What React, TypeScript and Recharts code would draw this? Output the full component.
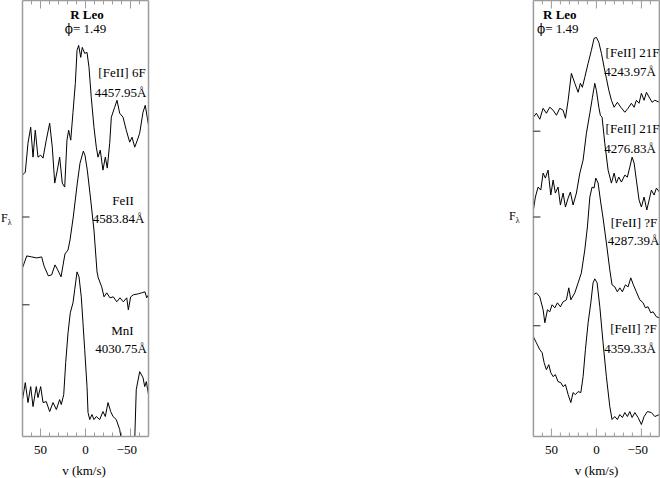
import React from 'react';
import { LineChart, Line, XAxis, YAxis } from 'recharts';

// velocity (km/s), flux (arbitrary units, offset per line)
const feII6F: [number, number][] = [
    [70, 262], [66.9, 265], [63.9, 294], [60.9, 310], [58.3, 280], [55.8, 307], [52.8, 280], [49.8, 282],
    [47.2, 279], [43.6, 297], [39.8, 314], [36.9, 290], [34.2, 254], [31.3, 267], [28.7, 280], [25.8, 254],
    [23.1, 250], [20.6, 297], [18.7, 307], [16.4, 297], [13.9, 325], [11.3, 354], [9.4, 387], [7.6, 392],
    [5.3, 380], [3.6, 390], [0.9, 384], [-1.7, 385], [-3.9, 370], [-6.4, 340], [-9.4, 310], [-12, 290],
    [-13.9, 280], [-16.4, 287], [-19.4, 267], [-22, 280], [-24.2, 269], [-26.9, 294], [-28.7, 320], [-32.4, 330],
    [-35, 337], [-38, 324], [-41.7, 320], [-45.3, 307], [-49.1, 295], [-51.7, 300], [-54.7, 290], [-57.6, 297],
    [-60.2, 304], [-63.9, 325], [-66.4, 332], [-70, 312],
];
const feII4583: [number, number][] = [
    [70, 169], [65.3, 181], [59.8, 180], [54.2, 179], [48.7, 180], [46.1, 171], [41.3, 161], [37.6, 162],
    [33.9, 172], [30.9, 167], [27.2, 160], [22.8, 183], [19.4, 187], [17.2, 197], [13.6, 220], [9.1, 254],
    [6.1, 274], [2.4, 286], [0.6, 282], [-2, 267], [-5.8, 237], [-9.4, 207], [-12.8, 165], [-14.2, 159],
    [-18, 150], [-20.6, 140], [-23.6, 144], [-27.2, 139], [-30.9, 140], [-34.7, 135], [-38.3, 139], [-42, 135],
    [-45.8, 139], [-47.6, 127], [-50.2, 140], [-53.1, 142], [-58.7, 143], [-62.4, 144], [-66.1, 145], [-68, 139],
    [-70, 142],
];
const mnI4030: [number, number][] = [
    [70, 37], [66.9, 54], [63.9, 34], [60.9, 50], [58.3, 30], [54.7, 50], [52.8, 39], [49.8, 50],
    [47.2, 34], [43.6, 35], [39.8, 25], [36.1, 34], [32.4, 27], [28.7, 37], [26.9, 32], [24.2, 42],
    [22, 74], [19.4, 104], [16.9, 124], [13.9, 134], [12, 147], [9.4, 165], [7.2, 160], [4.7, 140],
    [2.8, 114], [0.9, 87], [-1.7, 50], [-2.8, 24], [-4.7, 17], [-7.2, 22], [-9.4, 17], [-12, 20],
    [-15.8, 17], [-19.4, 25], [-22, 20], [-25, 34], [-28, 25], [-30.6, 20], [-34.2, 17], [-38, 7],
    [-39.8, -3], [-43, -33], [-51, -33], [-54.7, -3], [-56.4, 47], [-60.2, 65], [-63.9, 59], [-65.8, 50],
    [-67.6, 55], [-70, 42],
];
const feII4243: [number, number][] = [
    [70, 320], [66.7, 324], [62.9, 318], [59.2, 329], [55.6, 324], [51.8, 330], [48.1, 327], [44.4, 322],
    [40.7, 329], [37, 327], [34.4, 319], [31.4, 337], [27.8, 364], [24, 354], [20.3, 345], [17.8, 354],
    [15.6, 350], [12.9, 360], [9.2, 374], [5.6, 387], [2.6, 399], [0, 400], [-2.7, 395], [-5.6, 384],
    [-8.6, 370], [-11.1, 359], [-13.8, 347], [-16.7, 337], [-19.7, 330], [-23.3, 335], [-27.1, 330], [-31.6, 325],
    [-35.2, 329], [-38.9, 334], [-41.9, 330], [-44.4, 337], [-47.4, 334], [-50, 344], [-53, 337], [-55.6, 345],
    [-59.3, 339], [-61.9, 335], [-64.9, 337], [-70, 335],
];
const feII4276: [number, number][] = [
    [70, 227], [67.8, 240], [64.8, 250], [61.8, 247], [59.2, 264], [56.7, 259], [53.7, 267], [50.7, 242],
    [48.1, 257], [45.6, 244], [42.6, 250], [40, 232], [37, 244], [34.4, 230], [31.4, 239], [28.9, 245],
    [25.9, 232], [22.2, 244], [18.4, 264], [14.8, 277], [11.1, 304], [7.3, 324], [4.4, 340], [1.8, 354],
    [0, 347], [-2.7, 330], [-4.4, 322], [-6.3, 320], [-9.3, 294], [-13, 267], [-16.7, 254], [-19.7, 264],
    [-22.2, 254], [-24.9, 260], [-27.8, 255], [-31.6, 262], [-34.4, 260], [-37.1, 270], [-39.7, 280], [-41.9, 274],
    [-44.4, 257], [-47.4, 237], [-50, 230], [-53, 240], [-56, 227], [-58.6, 237], [-61.1, 247], [-64.1, 242],
    [-66.7, 249], [-70, 245],
];
const feII4287: [number, number][] = [
    [70, 142], [66.7, 144], [62.9, 140], [59.2, 127], [57.3, 114], [54.4, 127], [51.8, 125], [49.2, 132],
    [46.2, 129], [43.3, 134], [40, 130], [37, 135], [33.3, 137], [30.7, 149], [28.4, 137], [24, 144],
    [20.3, 154], [16.7, 164], [12.9, 187], [10, 210], [7.3, 240], [4.8, 250], [2.6, 249], [0.7, 259],
    [-1.9, 254], [-4.9, 234], [-7.4, 219], [-11.1, 194], [-14.9, 167], [-17.4, 152], [-20.4, 150], [-23.3, 145],
    [-26, 149], [-28.9, 145], [-32.2, 152], [-35.2, 150], [-38.2, 159], [-41.1, 152], [-44.4, 145], [-48.2, 137],
    [-51.9, 134], [-54.4, 129], [-57.4, 130], [-60.4, 124], [-63, 125], [-66.7, 120], [-70, 119],
];
const feII4359: [number, number][] = [
    [70, 100], [66.7, 94], [62.9, 87], [60.3, 84], [58.1, 74], [55.6, 67], [52.9, 72], [50.7, 64],
    [48.1, 60], [45.6, 62], [42.6, 55], [39.6, 54], [37, 50], [34.4, 52], [31.4, 42], [28.4, 34],
    [25.9, 44], [23.3, 42], [20.3, 45], [17.3, 44], [14.8, 60], [12.2, 87], [9.2, 114], [6.2, 134],
    [3.7, 154], [1.8, 158], [-0.8, 154], [-3.8, 130], [-7.4, 94], [-11.1, 60], [-14.9, 30], [-17.4, 17],
    [-20.4, 20], [-23.3, 17], [-26, 22], [-28.9, 19], [-31.6, 24], [-34.4, 20], [-37.1, 25], [-39.7, 19],
    [-42.7, 24], [-46.3, 19], [-50, 12], [-53, 20], [-56.7, 25], [-61.1, 24], [-64.9, 20], [-70, 22],
];

const vTicks = [-60, -50, -40, -30, -20, -10, 0, 10, 20, 30, 40, 50, 60];
const leftZeroLevels = [220, 132];
const rightZeroLevels = [306, 220, 111];

const V_DOMAIN: [number, number] = [-70, 70];
const F_DOMAIN: [number, number] = [0, 437];
const FRAME = '#9c9c9c';
const FONT = '"Liberation Serif", "DejaVu Serif", serif';

const toRows = (s: [number, number][]) => s.map(([v, f]) => ({ v, f }));

const fmtV = (v: number) => (v < 0 ? '\u2212' + Math.abs(v) : String(v));

function BottomTick(p: any) {
    const v = p.payload.value;
    const major = v % 50 === 0;
    const digits = String(Math.abs(v)).length;
    return (
        <g>
            <line x1={p.x} x2={p.x} y1={p.y} y2={p.y - (major ? 8 : 4)} stroke={FRAME} strokeWidth={1} />
            {major && (
                <text x={p.x + digits * 3.25} y={p.y + 17.5} textAnchor="end" fontFamily={FONT} fontSize={13} fill="#000">
                    {fmtV(v)}
                </text>
            )}
        </g>
    );
}

function TopTick(p: any) {
    const major = p.payload.value % 50 === 0;
    return <line x1={p.x} x2={p.x} y1={p.y} y2={p.y + (major ? 8 : 4)} stroke={FRAME} strokeWidth={1} />;
}

function LeftTick(p: any) {
    return <line x1={p.x} x2={p.x + 7} y1={p.y} y2={p.y} stroke="#222" strokeWidth={1} />;
}

function Panel({ series, levels, width, margin }: {
    series: [number, number][][];
    levels: number[];
    width: number;
    margin: { top: number; right: number; bottom: number; left: number };
}) {
    return (
        <LineChart width={width} height={478} margin={margin}>
            <XAxis xAxisId="b" dataKey="v" type="number" domain={V_DOMAIN} reversed allowDataOverflow
                ticks={vTicks} interval={0} tick={BottomTick} tickSize={0} tickMargin={0} tickLine={false}
                height={1} axisLine={{ stroke: FRAME, strokeWidth: 1.5 }} />
            <XAxis xAxisId="t" orientation="top" dataKey="v" type="number" domain={V_DOMAIN} reversed allowDataOverflow
                ticks={vTicks} interval={0} tick={TopTick} tickSize={0} tickMargin={0} tickLine={false}
                height={1} axisLine={{ stroke: FRAME, strokeWidth: 1.5 }} />
            <YAxis yAxisId="l" type="number" domain={F_DOMAIN} allowDataOverflow ticks={levels} interval={0}
                tick={LeftTick} tickSize={0} tickMargin={0} tickLine={false} width={1}
                axisLine={{ stroke: FRAME, strokeWidth: 1.5 }} />
            <YAxis yAxisId="r" orientation="right" type="number" domain={F_DOMAIN} allowDataOverflow tick={false}
                tickLine={false} width={1} axisLine={{ stroke: FRAME, strokeWidth: 1.5 }} />
            {series.map((s, i) => (
                <Line key={i} xAxisId="b" yAxisId="l" data={toRows(s)} dataKey="f" type="linear"
                    stroke="#000" strokeWidth={1} dot={false} activeDot={false} isAnimationActive={false} />
            ))}
            <Line xAxisId="t" yAxisId="r" data={toRows(series[0])} dataKey="f" stroke="none" dot={false}
                activeDot={false} isAnimationActive={false} />
        </LineChart>
    );
}

// annotation placement: [text, x, baseline, align, bold]
type Note = [string, number, number, 'left' | 'center', boolean?];
const notes: Note[] = [
    ['R Leo', 87, 18.5, 'center', true],
    ['[FeII] 6F', 122, 77, 'center'],
    ['4457.95\u00c5', 120.5, 97, 'center'],
    ['FeII', 123, 205, 'center'],
    ['4583.84\u00c5', 118.5, 223, 'center'],
    ['MnI', 122.5, 335, 'center'],
    ['4030.75\u00c5', 121, 353, 'center'],
    ['v (km/s)', 84, 475, 'center'],
    ['R Leo', 543, 18.5, 'left', true],
    ['[FeII] 21F', 632.5, 57, 'center'],
    ['4243.97\u00c5', 630, 76, 'center'],
    ['[FeII] 21F', 632.5, 133, 'center'],
    ['4276.83\u00c5', 630, 153, 'center'],
    ['[FeII] ?F', 634, 227, 'center'],
    ['4287.39\u00c5', 633.5, 245, 'center'],
    ['[FeII] ?F', 633.5, 333, 'center'],
    ['4359.33\u00c5', 630, 353, 'center'],
    ['v (km/s)', 596.5, 475, 'center'],
];
// phase captions: [x, baseline, align]
const phaseNotes: [number, number, 'left' | 'center'][] = [
    [85.5, 33, 'center'],
    [537, 33, 'left'],
];

function Phase({ x, baseline, align }: { x: number; baseline: number; align: 'left' | 'center' }) {
    return (
        <div style={{
            position: 'absolute', left: x, top: baseline - 10, font: `13px/11px ${FONT}`, whiteSpace: 'nowrap',
            transform: align === 'center' ? 'translateX(-50%)' : undefined, color: '#000',
        }}>
            <span style={{ fontFamily: '"DejaVu Serif", serif', fontSize: 12 }}>{'\u03d5'}</span>= 1.49
        </div>
    );
}

function Flux({ x, baseline }: { x: number; baseline: number }) {
    return (
        <div style={{ position: 'absolute', left: x, top: baseline - 10, font: `12px/11px ${FONT}`, whiteSpace: 'nowrap' }}>
            F<span style={{ fontSize: 8, position: 'relative', top: 3 }}>{'\u03bb'}</span>
        </div>
    );
}

export default function App() {
    return (
        <div style={{ position: 'absolute', left: 0, top: 0, width: 660, height: 478, background: '#fff', overflow: 'hidden' }}>
            <div style={{ position: 'absolute', left: 0, top: 0 }}>
                <Panel series={[feII6F, feII4583, mnI4030]} levels={leftZeroLevels} width={170}
                    margin={{ top: -0.5, right: 20.5, bottom: 40.5, left: 21.5 }} />
            </div>
            <div style={{ position: 'absolute', left: 500, top: 0 }}>
                <Panel series={[feII4243, feII4276, feII4287, feII4359]} levels={rightZeroLevels} width={160}
                    margin={{ top: -0.5, right: -0.4, bottom: 40.5, left: 32.4 }} />
            </div>
            {notes.map(([t, x, b, align, bold], i) => (
                <div key={i} style={{
                    position: 'absolute', left: x, top: b - 10, font: `${bold ? 'bold ' : ''}13px/11px ${FONT}`,
                    whiteSpace: 'nowrap', transform: align === 'center' ? 'translateX(-50%)' : undefined, color: '#000',
                }}>{t}</div>
            ))}
            {phaseNotes.map(([x, b, align], i) => <Phase key={i} x={x} baseline={b} align={align} />)}
            <Flux x={1} baseline={223} />
            <Flux x={509} baseline={221} />
        </div>
    );
}
